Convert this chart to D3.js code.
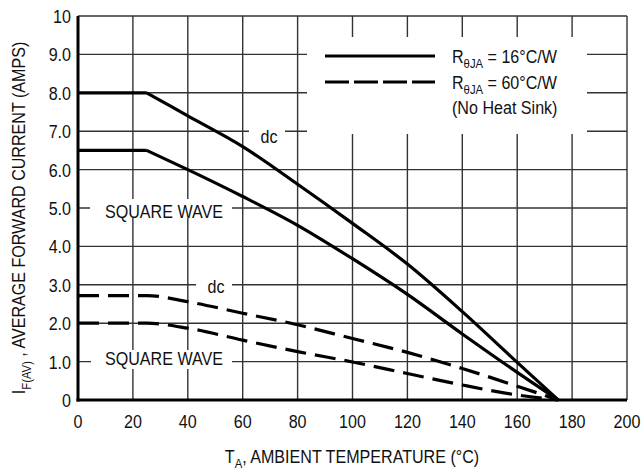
<!DOCTYPE html>
<html>
<head>
<meta charset="utf-8">
<script src="https://cdn.jsdelivr.net/npm/d3@7"></script>
<style>
  body { margin: 0; background: #fff; }
  svg text { font-family: "Liberation Sans", Arial, sans-serif; fill: #111; }
</style>
</head>
<body>
<div id="chart"></div>
<script>
// curve readings (temperature in degC, current in amps)
var dc16Temp   = [0, 25, 40, 60, 80, 100, 120, 140, 160, 175];
var dc16Amps   = [8.0, 8.0, 7.4, 6.6, 5.62, 4.6, 3.54, 2.3, 0.98, 0];
var sq16Temp   = [0, 25, 40, 60, 80, 100, 120, 140, 160, 175];
var sq16Amps   = [6.5, 6.5, 6.0, 5.3, 4.55, 3.68, 2.75, 1.72, 0.72, 0];
var dc60Temp   = [0, 25, 40, 60, 80, 100, 120, 140, 160, 175];
var dc60Amps   = [2.72, 2.72, 2.56, 2.26, 1.96, 1.6, 1.24, 0.82, 0.36, 0];
var sq60Temp   = [0, 25, 40, 60, 80, 100, 120, 140, 160, 175];
var sq60Amps   = [2.0, 2.0, 1.87, 1.56, 1.26, 0.99, 0.69, 0.39, 0.13, 0];

var xTicks = [0, 20, 40, 60, 80, 100, 120, 140, 160, 180, 200];
var yTicks = [0, 1, 2, 3, 4, 5, 6, 7, 8, 9, 10];
var yTickLabels = ["0", "1.0", "2.0", "3.0", "4.0", "5.0", "6.0", "7.0", "8.0", "9.0", "10"];

var W = 642, H = 473;
var margin = {top: 16, right: 15, bottom: 73, left: 78};
var NARROW = 0.87;   // no narrow face installed, squeeze the glyphs instead

var svg = d3.select("#chart").append("svg")
    .attr("width", W)
    .attr("height", H);

var x = d3.scaleLinear().domain([0, 200]).range([margin.left, W - margin.right]);
var y = d3.scaleLinear().domain([0, 10]).range([H - margin.bottom, margin.top]);

// text placed at (tx,ty), squeezed horizontally
function narrowText(tx, ty, size, anchor, rot) {
    var tr = "translate(" + tx + "," + ty + ")" + (rot ? " rotate(" + rot + ")" : "") + " scale(" + NARROW + ",1)";
    return svg.append("text")
        .attr("transform", tr)
        .attr("text-anchor", anchor || "start")
        .attr("font-size", size);
}

// grid
var grid = svg.append("g");
grid.selectAll(".vg").data(xTicks).enter().append("line")
    .attr("x1", function(d){ return x(d); })
    .attr("x2", function(d){ return x(d); })
    .attr("y1", y(0))
    .attr("y2", y(10))
    .attr("stroke", "#333")
    .attr("stroke-width", 1.4);
grid.selectAll(".hg").data(yTicks).enter().append("line")
    .attr("x1", x(0))
    .attr("x2", x(200))
    .attr("y1", function(d){ return y(d); })
    .attr("y2", function(d){ return y(d); })
    .attr("stroke", "#333")
    .attr("stroke-width", 1.4);

// white boxes that break the grid under labels and legend
function blank(x0, y0, x1, y1) {
    svg.append("rect")
        .attr("x", x0).attr("y", y0)
        .attr("width", x1 - x0).attr("height", y1 - y0)
        .attr("fill", "#fff");
}
blank(307, 37, 587, 134);
blank(90, 199, 232, 218);
blank(249, 126, 285, 146);
blank(196, 277, 232, 296);
blank(91, 350, 232, 369);

// axes (left and bottom are heavy)
svg.append("line")
    .attr("x1", x(0)).attr("x2", x(0))
    .attr("y1", y(0) + 1.5).attr("y2", y(10))
    .attr("stroke", "#000").attr("stroke-width", 3);
svg.append("line")
    .attr("x1", x(0) - 1.5).attr("x2", x(200))
    .attr("y1", y(0)).attr("y2", y(0))
    .attr("stroke", "#000").attr("stroke-width", 3);

// tick labels
xTicks.forEach(function(d){
    narrowText(x(d), 428, 18.5, "middle").text(d);
});
yTicks.forEach(function(d, i){
    narrowText(71, y(d) + 7, 18.5, "end").text(yTickLabels[i]);
});

// axis titles
var xt = narrowText(352, 463, 18.5, "middle");
xt.append("tspan").text("T");
xt.append("tspan").attr("font-size", 13).attr("dy", 5).text("A");
xt.append("tspan").attr("dy", -5).text(", AMBIENT TEMPERATURE (°C)");

var yt = narrowText(25, 218, 18.5, "middle", -90);
yt.append("tspan").text("I");
yt.append("tspan").attr("font-size", 13).attr("dy", 6).text("F(AV)");
yt.append("tspan").attr("dy", -6).text(" , AVERAGE FORWARD CURRENT (AMPS)");

// curves
var straight = d3.line()
    .x(function(d){ return x(d[0]); })
    .y(function(d){ return y(d[1]); });
var smooth = d3.line()
    .x(function(d){ return x(d[0]); })
    .y(function(d){ return y(d[1]); })
    .curve(d3.curveMonotoneX);

function pairs(t, a) { return t.map(function(v, i){ return [v, a[i]]; }); }

// heat sink curves: flat part, then a sharp knee into the smooth derating part
function kneePath(pts) { return straight(pts.slice(0, 2)) + smooth(pts.slice(1)); }
function softPath(pts) { return smooth(pts); }

var series = [
    {pts: pairs(dc16Temp, dc16Amps), dash: null, gen: kneePath},
    {pts: pairs(sq16Temp, sq16Amps), dash: null, gen: kneePath},
    {pts: pairs(dc60Temp, dc60Amps), dash: "21,9", gen: softPath},
    {pts: pairs(sq60Temp, sq60Amps), dash: "21,9", gen: softPath}
];
svg.selectAll(".curve").data(series).enter().append("path")
    .attr("d", function(d){ return d.gen(d.pts); })
    .attr("fill", "none")
    .attr("stroke", "#000")
    .attr("stroke-width", 3.2)
    .attr("stroke-linejoin", "round")
    .attr("stroke-dasharray", function(d){ return d.dash; });

// curve labels
narrowText(269, 143, 18.5, "middle").text("dc");
narrowText(164, 218, 18.5, "middle").text("SQUARE WAVE");
narrowText(216, 293, 18.5, "middle").text("dc");
narrowText(164, 365, 18.5, "middle").text("SQUARE WAVE");

// legend
svg.append("line")
    .attr("x1", 325).attr("x2", 435)
    .attr("y1", 56).attr("y2", 56)
    .attr("stroke", "#000").attr("stroke-width", 3.2);
svg.append("line")
    .attr("x1", 325).attr("x2", 435)
    .attr("y1", 82).attr("y2", 82)
    .attr("stroke", "#000").attr("stroke-width", 3.2)
    .attr("stroke-dasharray", "24,5");

function legendText(ty, val) {
    var t = narrowText(452, ty, 18.5, "start");
    t.append("tspan").text("R");
    t.append("tspan").attr("font-size", 13).attr("dy", 5).text("θJA");
    t.append("tspan").attr("dy", -5).text(" = " + val);
}
legendText(63, "16°C/W");
legendText(89, "60°C/W");
narrowText(452, 114, 18.5, "start").text("(No Heat Sink)");
</script>
</body>
</html>
